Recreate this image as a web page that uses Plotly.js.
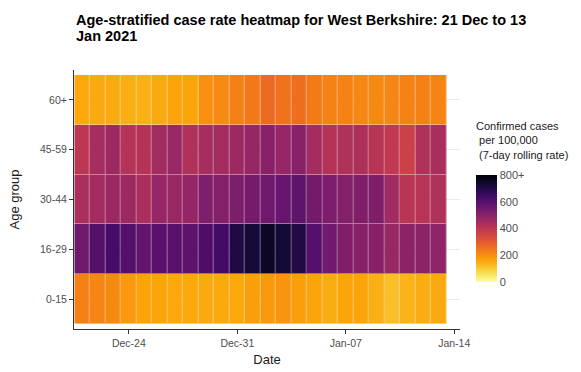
<!DOCTYPE html>
<html>
<head>
<meta charset="utf-8">
<script src="https://cdn.plot.ly/plotly-3.0.1.min.js"></script>
<style>html,body{margin:0;padding:0;background:#fff;}#chart{width:581px;height:372px;}</style>
</head>
<body>
<div id="chart"></div>
<script>
var dates = ['2020-12-21','2020-12-22','2020-12-23','2020-12-24','2020-12-25','2020-12-26','2020-12-27','2020-12-28','2020-12-29','2020-12-30','2020-12-31','2021-01-01','2021-01-02','2021-01-03','2021-01-04','2021-01-05','2021-01-06','2021-01-07','2021-01-08','2021-01-09','2021-01-10','2021-01-11','2021-01-12','2021-01-13'];
var ageGroups = ['0-15','16-29','30-44','45-59','60+'];
var rate0to15  = [225,215,210,180,162,158,155,155,150,152,155,170,182,188,172,158,148,158,158,142,120,138,148,150];
var rate16to29 = [550,600,630,600,570,590,590,585,615,635,700,720,750,725,695,600,545,515,500,500,470,492,495,490];
var rate30to44 = [435,450,465,462,435,475,470,478,520,510,525,535,550,565,580,540,522,510,518,520,455,405,410,425];
var rate45to59 = [400,445,460,415,415,450,470,425,445,450,460,475,500,475,500,448,415,425,430,410,390,365,425,440];
var rate60plus = [155,150,150,145,142,150,160,158,200,208,225,240,265,250,258,235,222,220,212,210,215,222,225,218];
var xTickVals = ['2020-12-24','2020-12-31','2021-01-07','2021-01-14'];
var xTickText = ['Dec-24','Dec-31','Jan-07','Jan-14'];
var cbTickVals = [0,200,400,600,800];
var cbTickText = ['0','200','400','600','800+'];

var FONT = 'Liberation Sans, Arial, Helvetica, sans-serif';
var inferno = [[0,'#FCFFA4'],[0.1,'#F6D746'],[0.2,'#FCA50A'],[0.3,'#F37819'],[0.4,'#DD513A'],[0.5,'#BC3754'],[0.6,'#932667'],[0.7,'#6A176E'],[0.8,'#420A68'],[0.9,'#160B39'],[1,'#000004']];
var zData = [rate0to15, rate16to29, rate30to44, rate45to59, rate60plus];

// base layer: tiles with white gaps
var base = {
  type: 'heatmap',
  x: dates, y: ageGroups, z: zData,
  zmin: 0, zmax: 800,
  colorscale: inferno,
  xgap: 1, ygap: 1,
  hoverinfo: 'skip',
  colorbar: {
    x: 1.0415, xanchor: 'left', xpad: 0,
    y: 0.1815, yanchor: 'bottom', ypad: 0,
    len: 107, lenmode: 'pixels',
    thickness: 21, thicknessmode: 'pixels',
    outlinewidth: 0,
    tickmode: 'array', tickvals: cbTickVals, ticktext: cbTickText,
    ticks: '',
    tickfont: {family: FONT, size: 11, color: '#4d4d4d'}
  }
};
// overlay without gaps, partly transparent, so the tile borders are faint
var overlay = {
  type: 'heatmap',
  x: dates, y: ageGroups, z: zData,
  zmin: 0, zmax: 800,
  colorscale: inferno,
  opacity: 0.6,
  showscale: false,
  hoverinfo: 'skip'
};

var titleX = 76;
var layout = {
  width: 581, height: 372,
  margin: {l: 74, r: 121, t: 70, b: 43, pad: 0},
  paper_bgcolor: '#fff', plot_bgcolor: '#fff',
  font: {family: FONT, color: '#1a1a1a'},
  title: {
    text: '<b>Age-stratified case rate heatmap for West Berkshire: 21 Dec to 13</b>',
    font: {family: FONT, size: 14.5, color: '#000'},
    x: titleX / 581, xanchor: 'left', xref: 'container',
    y: 1 - 19.5/372, yanchor: 'middle', yref: 'container'
  },
  xaxis: {
    type: 'date',
    range: ['2020-12-20 11:00', '2021-01-14 09:00'],
    tickmode: 'array', tickvals: xTickVals, ticktext: xTickText,
    ticks: 'outside', ticklen: 4, tickwidth: 1, tickcolor: '#333',
    showline: true, linecolor: '#333', linewidth: 1,
    showgrid: false, zeroline: false,
    tickfont: {family: FONT, size: 10.5, color: '#4d4d4d'},
    title: {text: 'Date', font: {family: FONT, size: 13, color: '#1a1a1a'}, standoff: 7}
  },
  yaxis: {
    type: 'category',
    range: [-0.6, 4.6],
    ticks: 'outside', ticklen: 4, tickwidth: 1, tickcolor: '#333',
    showline: true, linecolor: '#333', linewidth: 1,
    showgrid: true, gridcolor: '#ebebeb', gridwidth: 1, zeroline: false,
    tickfont: {family: FONT, size: 10.5, color: '#4d4d4d'},
    title: {text: 'Age group', font: {family: FONT, size: 13, color: '#1a1a1a'}, standoff: 17}
  },
  annotations: [
    {
      text: '<b>Jan 2021</b>', xref: 'paper', yref: 'paper',
      x: (titleX - 2 - 74) / 386, xanchor: 'left',
      y: (329 - 36.5) / 259, yanchor: 'middle',
      showarrow: false, font: {family: FONT, size: 14.5, color: '#000'}
    },
    {
      text: 'Confirmed cases<br>\u00a0per 100,000<br>\u00a0(7-day rolling rate)',
      xref: 'paper', yref: 'paper',
      x: (474 - 74) / 386, xanchor: 'left',
      y: (329 - 118) / 259, yanchor: 'top',
      align: 'left', showarrow: false,
      font: {family: FONT, size: 11, color: '#1a1a1a'}
    }
  ]
};

Plotly.newPlot('chart', [base, overlay], layout, {staticPlot: true, displayModeBar: false});
</script>
</body>
</html>
